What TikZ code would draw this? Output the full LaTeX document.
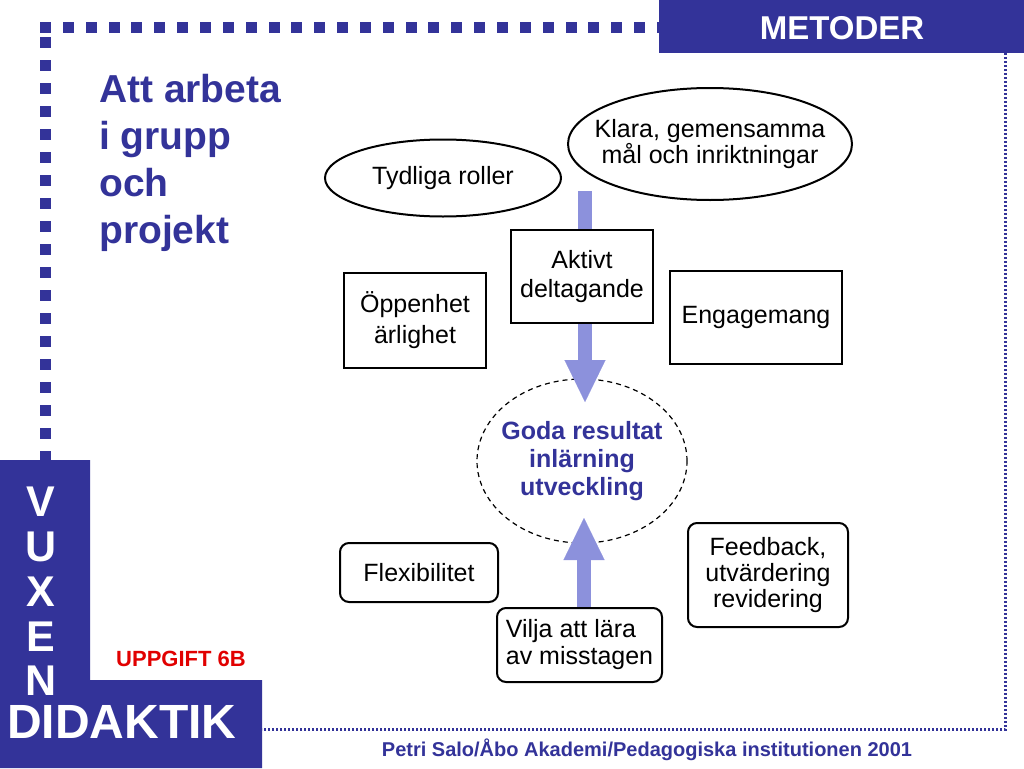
\documentclass[tikz,border=0pt]{standalone}
\usepackage{fontspec}
\setmainfont{Liberation Sans}
\usetikzlibrary{shapes.geometric,arrows.meta}
\definecolor{navy}{RGB}{51,51,153}
\definecolor{lila}{RGB}{140,145,220}
\definecolor{uppred}{RGB}{225,0,0}

\begin{document}
\begin{tikzpicture}[x=1pt,y=-1pt,
  txt/.style={font=\fontsize{25}{#1}\selectfont, align=center},
  oval/.style={ellipse, draw, line width=2pt, fill=white, inner ysep=0pt, inner xsep=-30pt, txt=26},
  box/.style={rectangle, draw, line width=2pt, fill=white, inner sep=0pt, txt=#1},
  roundbox/.style={box=#1, rounded corners=9pt},
  fatarrow/.style={lila, line width=14pt, -{Triangle[length=42pt,width=41pt,line width=0.1pt]}}]
\useasboundingbox (0,0) rectangle (1024,768);

\foreach \i in {0,...,27} \fill[navy] ({40+22.85*\i},22.5) rectangle +(11,11);
\foreach \j in {0,...,18} \fill[navy] (40,{37+23*\j}) rectangle +(11,11);
\draw[navy, line width=2.5pt, dash pattern=on 2pt off 2pt] (1005.5,53) -- (1005.5,729.5) -- (262,729.5);

\fill[navy] (659,0) rectangle (1024,53);
\node[text=white, font=\fontsize{33}{36}\selectfont\bfseries] (metoder) at (842,28) {METODER};

\fill[navy] (0,460) -- (90,460) -- (90,680) -- (262,680) -- (262,768) -- (0,768) -- cycle;
\node[text=white, font=\fontsize{43}{44.75}\selectfont\bfseries, align=center, inner sep=0pt, anchor=north] (vuxen) at (41,487) {V\\U\\X\\E\\N};
\node[text=white, font=\fontsize{48}{50}\selectfont\bfseries, inner sep=0pt, anchor=base west] (didaktik) at (7,738) {DIDAKTIK};
\node[text=uppred, font=\fontsize{22}{24}\selectfont\bfseries] (uppgift) at (181,659) {UPPGIFT 6B};

\node[text=navy, font=\fontsize{39}{47}\selectfont\bfseries, align=left, inner sep=0pt, anchor=north west] (titel) at (99,74) {Att arbeta\\i grupp\\och\\projekt};
\node[text=navy, font=\fontsize{20}{22}\selectfont\bfseries] (kalla) at (647,750) {Petri Salo/Åbo Akademi/Pedagogiska institutionen 2001};

\node[ellipse, draw, line width=1.2pt, dash pattern=on 5pt off 4pt, minimum width=210, minimum height=164, inner xsep=-20pt, inner ysep=0pt, text=navy, font=\fontsize{25}{28}\selectfont\bfseries, align=center] (goda) at (582,461) {Goda resultat\\inlärning\\utveckling};

\coordinate (fromA) at (585,191);
\coordinate (toA) at (585,402);
\coordinate (fromB) at (584,608);
\coordinate (toB) at (584,518);
\draw[fatarrow] (fromA) -- (toA);
\draw[fatarrow] (fromB) -- (toB);

\node[oval, minimum width=236, minimum height=77] (roller) at (443,178) {Tydliga roller};
\node[oval, minimum width=284, minimum height=112] (mal) at (710,144) {Klara, gemensamma\\mål och inriktningar};
\node[box=29, minimum width=142, minimum height=93] (aktivt) at (582,276.5) {Aktivt\\deltagande};
\node[box=31, minimum width=142, minimum height=95] (oppen) at (415,320.5) {Öppenhet\\ärlighet};
\node[box=28, minimum width=172, minimum height=93] (engag) at (756,317.5) {Engagemang};
\node[roundbox=28, minimum width=158, minimum height=59] (flex) at (419,572.5) {Flexibilitet};
\node[roundbox=27, minimum width=165, minimum height=74, align=left] (vilja) at (579.5,645) {Vilja att lära\\av misstagen};
\node[roundbox=26, minimum width=160, minimum height=104] (feedb) at (768,575) {Feedback,\\utvärdering\\revidering};
\end{tikzpicture}
\end{document}
